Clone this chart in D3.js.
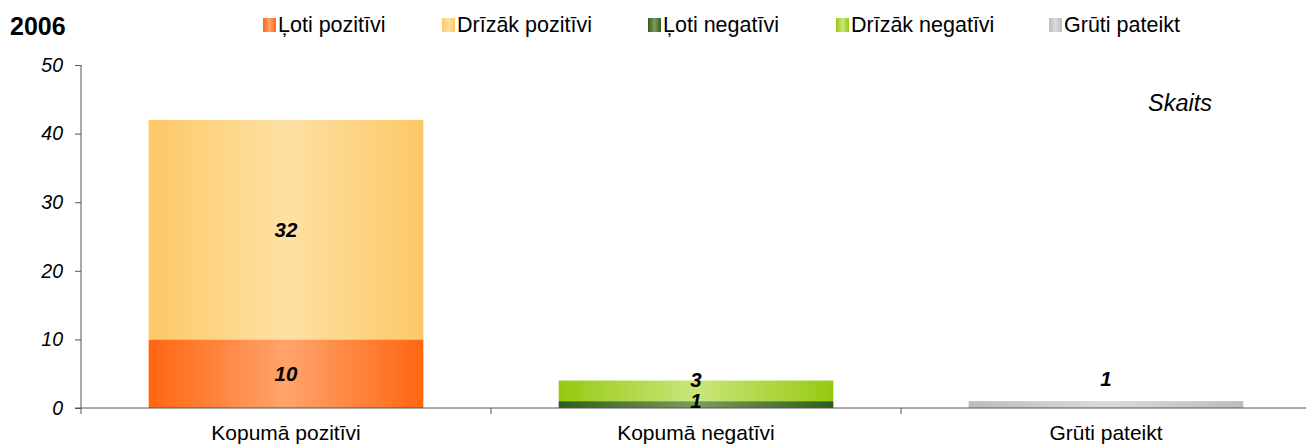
<!DOCTYPE html>
<html>
<head>
<meta charset="utf-8">
<script src="https://cdnjs.cloudflare.com/ajax/libs/d3/7.8.5/d3.min.js"></script>
<style>
  body { margin: 0; background: #fff; }
  svg { display: block; font-family: "Liberation Sans", Arial, sans-serif; }
  .tick text { font-style: italic; font-size: 19.5px; fill: #000; }
  .tick line, .domain { stroke: #555; }
</style>
</head>
<body>
<svg id="chart" width="1306" height="446"></svg>
<script>
var categories = ["Kopumā pozitīvi", "Kopumā negatīvi", "Grūti pateikt"];
var seriesNames = ["Ļoti pozitīvi", "Drīzāk pozitīvi", "Ļoti negatīvi", "Drīzāk negatīvi", "Grūti pateikt"];
// value of each series per category (0 where not used)
var lotiPozitivi   = [10, 0, 0];
var drizakPozitivi = [32, 0, 0];
var lotiNegativi   = [0, 1, 0];
var drizakNegativi = [0, 3, 0];
var grutiPateikt   = [0, 0, 1];
var yTicks = [0, 10, 20, 30, 40, 50];

// edge colour, centre colour of each gradient
var gradColors = [
  ["#ff6610", "#ffa46c"],
  ["#fdc866", "#fde1a4"],
  ["#2f5e1b", "#7d9c60"],
  ["#97c90f", "#c9e67c"],
  ["#bcbcbc", "#dadada"]
];

var svg = d3.select("#chart");
var seriesValues = [lotiPozitivi, drizakPozitivi, lotiNegativi, drizakNegativi, grutiPateikt];

var defs = svg.append("defs");
gradColors.forEach(function(c, i) {
  var g = defs.append("linearGradient").attr("id", "grad" + i)
    .attr("x1", "0%").attr("x2", "100%").attr("y1", "0%").attr("y2", "0%");
  g.append("stop").attr("offset", "0%").attr("stop-color", c[0]);
  g.append("stop").attr("offset", "50%").attr("stop-color", c[1]);
  g.append("stop").attr("offset", "100%").attr("stop-color", c[0]);
});

var x = d3.scaleBand().domain(categories).range([81, 1311])
  .paddingInner(0.33).paddingOuter(0.165);
var y = d3.scaleLinear().domain([0, 50]).range([408, 65]);

// y axis
svg.append("g")
  .attr("transform", "translate(81,0)")
  .call(d3.axisLeft(y).tickValues(yTicks).tickSize(6).tickPadding(12))
  .call(function(g) { g.select(".domain").attr("d", "M0," + y(50) + "V" + (y(0) + 6)); });

// stacked data
var rows = categories.map(function(c, ci) {
  var o = { cat: c };
  seriesNames.forEach(function(s, si) { o[s] = seriesValues[si][ci]; });
  return o;
});
var stack = d3.stack().keys(seriesNames)(rows);

stack.forEach(function(layer, si) {
  layer.forEach(function(d, ci) {
    var v = d[1] - d[0];
    if (!v) return;
    svg.append("rect")
      .attr("x", x(categories[ci]))
      .attr("width", x.bandwidth())
      .attr("y", y(d[1]))
      .attr("height", y(d[0]) - y(d[1]))
      .attr("fill", "url(#grad" + si + ")");
  });
});

// x axis line and ticks at band boundaries
svg.append("line")
  .attr("x1", 75).attr("x2", 1306)
  .attr("y1", y(0)).attr("y2", y(0))
  .attr("stroke", "#555");
categories.forEach(function(c, i) {
  var bx = x(c) - x.step() * x.paddingInner() / 2;
  if (i > 0) {
    svg.append("line").attr("x1", bx).attr("x2", bx)
      .attr("y1", y(0)).attr("y2", y(0) + 6).attr("stroke", "#555");
  }
  svg.append("text")
    .attr("x", x(c) + x.bandwidth() / 2)
    .attr("y", 440)
    .attr("text-anchor", "middle")
    .attr("font-size", 21)
    .text(c);
});

// value labels
stack.forEach(function(layer, si) {
  layer.forEach(function(d, ci) {
    var v = d[1] - d[0];
    if (!v) return;
    var base = (y(d[0]) + y(d[1])) / 2 + 7;
    // thin segments: label sits from the top of the segment
    if (y(d[0]) - y(d[1]) < 22) base = y(d[1]) + 6.5;
    if (categories[ci] == "Grūti pateikt") base = y(d[1]) - 15;
    svg.append("text")
      .attr("x", x(categories[ci]) + x.bandwidth() / 2)
      .attr("y", base)
      .attr("text-anchor", "middle")
      .attr("font-size", 20.5)
      .attr("font-weight", "bold")
      .attr("font-style", "italic")
      .text(v);
  });
});

// title
svg.append("text").attr("x", 10).attr("y", 35)
  .attr("font-size", 25).attr("font-weight", "bold").text("2006");

svg.append("text").attr("x", 1148).attr("y", 111)
  .attr("font-size", 23.5).attr("font-style", "italic").text("Skaits");

// legend
var legendX = [263, 442, 648, 836, 1049];
seriesNames.forEach(function(s, i) {
  var g = svg.append("g").attr("transform", "translate(" + legendX[i] + ",18)");
  g.append("rect").attr("width", 13).attr("height", 14).attr("fill", "url(#grad" + i + ")");
  g.append("text").attr("x", 15).attr("y", 14).attr("font-size", 21.5).text(s);
});
</script>
</body>
</html>
